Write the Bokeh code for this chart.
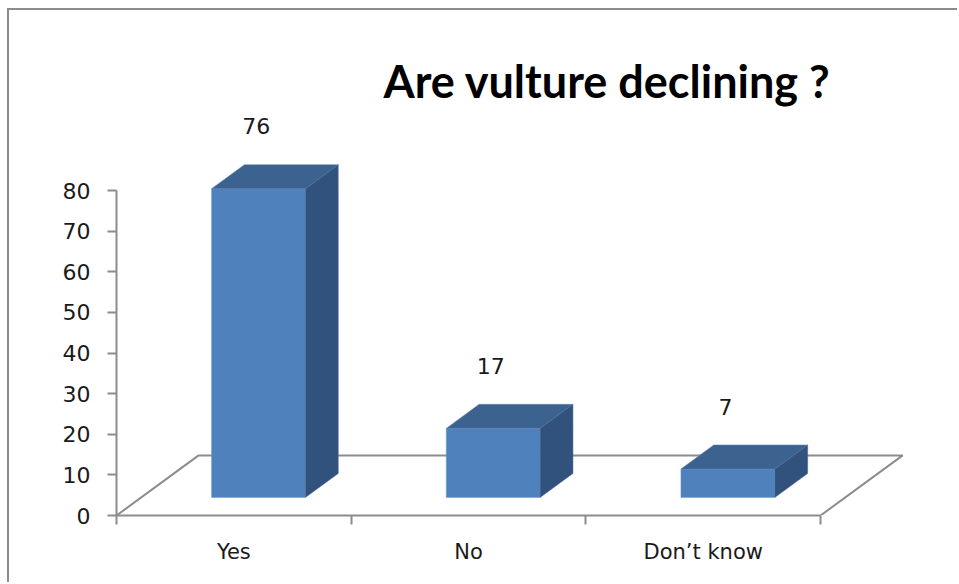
from bokeh.plotting import figure
from bokeh.models import FixedTicker, Title, Range1d
from bokeh.core.properties import value
from bokeh.embed import file_html
from bokeh.resources import INLINE

# ---- data ----
categories = ["Yes", "No", "Don\u2019t know"]
values = [76, 17, 7]
y_ticks = [0, 10, 20, 30, 40, 50, 60, 70, 80]
title_text = "Are vulture declining ?"

# ---- 3D look (projection constants, in data units) ----
DX = 0.35        # floor depth, horizontal (category units)
DY = 14.8        # floor depth, vertical (value units)
FRONT = 0.3      # bar front plane as fraction of floor depth
BACK = 0.7       # bar back plane
BW = 0.40        # bar width (category units)

FRONT_C = "#4F81BD"
TOP_C = "#3C6290"
SIDE_C = "#31527C"
GRID_C = "#8C8C8C"
TXT = "#1a1a1a"

n = len(categories)

p = figure(width=950, height=574, output_backend="svg", toolbar_location=None,
           x_range=Range1d(0, 3.592), y_range=Range1d(0, 99.7),
           min_border_left=107, min_border_right=0, min_border_top=100,
           min_border_bottom=69)
p.margin = (8, 0, 0, 7)
p.styles = {"border-top": "2px solid #8c8c8c", "border-left": "2px solid #8c8c8c"}
p.outline_line_color = None
p.xgrid.visible = False
p.ygrid.visible = False

# floor outline
fx = [0, DX, n + DX, n]
fy = [0, DY, DY, 0]
p.line(fx, fy, line_color=GRID_C, line_width=2)

# bars
front_l, front_r, front_b, front_t = [], [], [], []
tops_x, tops_y, side_x, side_y = [], [], [], []
bdx = (BACK - FRONT) * DX
bdy = (BACK - FRONT) * DY
lab_x, lab_y = [], []
for i, v in enumerate(values):
    x0 = i + 0.5 - BW / 2 + FRONT * DX
    y0 = FRONT * DY
    front_l.append(x0); front_r.append(x0 + BW)
    front_b.append(y0); front_t.append(y0 + v)
    tops_x.append([x0, x0 + BW, x0 + BW + bdx, x0 + bdx])
    tops_y.append([y0 + v, y0 + v, y0 + v + bdy, y0 + v + bdy])
    side_x.append([x0 + BW, x0 + BW + bdx, x0 + BW + bdx, x0 + BW])
    side_y.append([y0, y0 + bdy, y0 + v + bdy, y0 + v])
    lab_x.append(x0 + BW / 2 - 0.01)
    lab_y.append(v + 19.8)

p.quad(left=front_l, right=front_r, bottom=front_b, top=front_t,
       fill_color=FRONT_C, line_color="#6f9bd0", line_width=0.5)
p.patches(tops_x, tops_y, fill_color=TOP_C, line_color="#5a80b0", line_width=0.5)
p.patches(side_x, side_y, fill_color=SIDE_C, line_color="#4a6d99", line_width=0.5)

p.text(x=lab_x, y=lab_y, text=[str(v) for v in values],
       text_align="center", text_baseline="middle",
       text_font=value("DejaVu Sans"), text_font_size="22px", text_color=TXT)

# axes
ya = p.yaxis[0]
ya.ticker = FixedTicker(ticks=y_ticks)
ya.bounds = (0, 80)
ya.axis_line_color = GRID_C
ya.axis_line_width = 2
ya.major_tick_line_color = GRID_C
ya.major_tick_line_width = 2
ya.major_tick_out = 9
ya.major_tick_in = 0
ya.minor_tick_line_color = None
ya.major_label_standoff = 17
ya.major_label_text_font = "DejaVu Sans"
ya.major_label_text_font_size = "22px"
ya.major_label_text_color = TXT

xa = p.xaxis[0]
xa.ticker = FixedTicker(ticks=[i + 0.5 for i in range(n)],
                        minor_ticks=list(range(n + 1)))
xa.bounds = (0, n)
xa.axis_line_color = GRID_C
xa.axis_line_width = 2
xa.major_tick_out = 0
xa.major_tick_in = 0
xa.minor_tick_out = 9
xa.minor_tick_in = 0
xa.minor_tick_line_color = GRID_C
xa.minor_tick_line_width = 2
xa.major_label_overrides = {i + 0.5: c for i, c in enumerate(categories)}
xa.major_label_standoff = 15
xa.major_label_text_font = "DejaVu Sans"
xa.major_label_text_font_size = "21px"
xa.major_label_text_color = TXT

p.title = Title(text=title_text, align="left", offset=267,
                text_font="Lato", text_font_style="bold",
                text_font_size="45px", text_color="#000000", standoff=6)

open("out.html", "w").write(file_html(p, INLINE))
